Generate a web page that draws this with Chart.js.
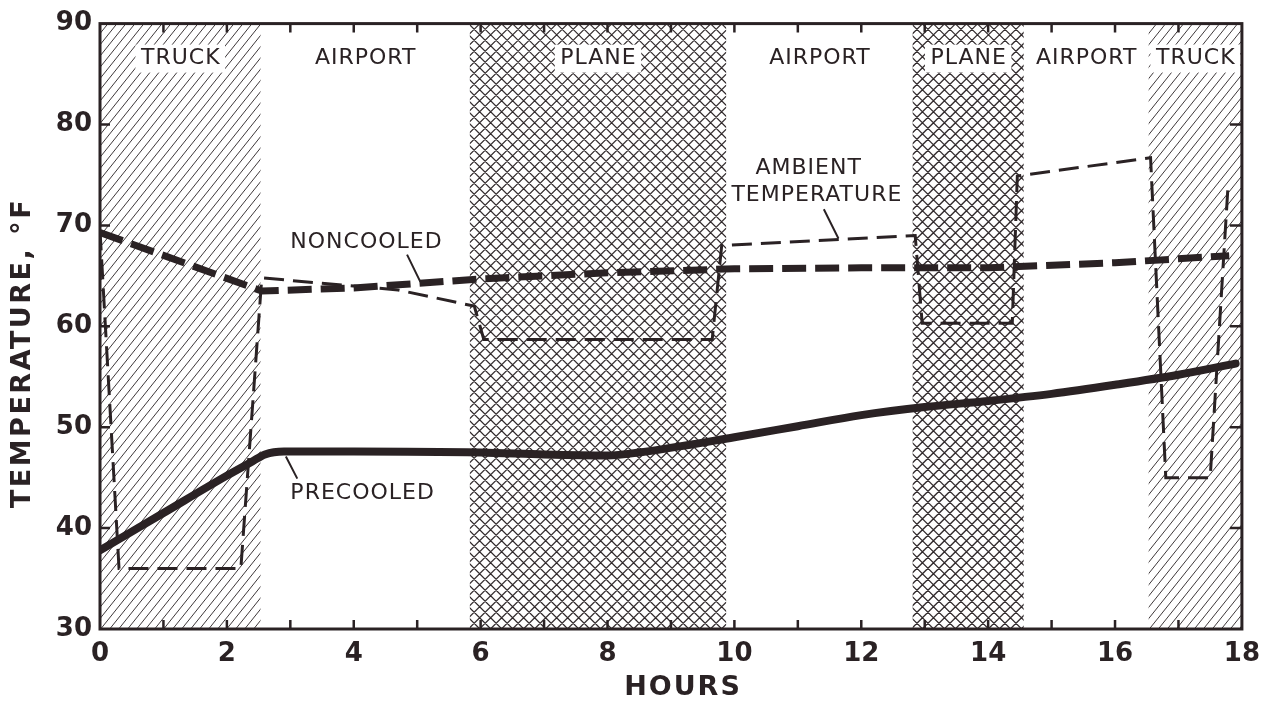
<!DOCTYPE html>
<html>
<head>
<meta charset="utf-8">
<script src="https://cdn.jsdelivr.net/npm/chart.js@4.4.1/dist/chart.umd.min.js"></script>
<style>
  html, body { margin: 0; padding: 0; background: #ffffff; }
  #wrap { width: 1270px; height: 701px; }
</style>
</head>
<body>
<div id="wrap"><canvas id="c" width="1270" height="701"></canvas></div>
<script>
// ---------- data ----------
const xTickLabels = ['0','2','4','6','8','10','12','14','16','18'];
const yTickLabels = ['30','40','50','60','70','80','90'];

const bandStart = [0, 2.53, 5.83, 9.87, 12.81, 14.56, 16.53];
const bandEnd   = [2.53, 5.83, 9.87, 12.81, 14.56, 16.53, 18];
const bandName  = ['TRUCK', 'AIRPORT', 'PLANE', 'AIRPORT', 'PLANE', 'AIRPORT', 'TRUCK'];
const bandKind  = ['hatch', 'none', 'cross', 'none', 'cross', 'none', 'hatch'];

const precooledHours = [0, 1, 2, 2.4, 2.6, 2.9, 4, 6, 7, 8, 8.5, 10, 11, 12, 13, 14, 15, 16, 17, 17.9];
const precooledTemp  = [37.8, 41.5, 45.2, 46.6, 47.3, 47.6, 47.6, 47.5, 47.3, 47.2, 47.5, 49.0, 50.1, 51.2, 52.0, 52.6, 53.3, 54.2, 55.2, 56.3];

const noncooledHours = [0, 2.55, 4, 6, 8, 10, 12, 14, 16, 17.8];
const noncooledTemp  = [69.3, 63.5, 63.8, 64.7, 65.3, 65.7, 65.8, 65.8, 66.3, 67.0];

const ambientHours = [0, 0.3, 2.22, 2.55, 4.7, 5.9, 6.05, 9.65, 9.8, 12.85, 12.96, 14.38, 14.46, 16.56, 16.8, 17.5, 17.78];
const ambientTemp  = [69.5, 36.0, 36.0, 64.8, 63.6, 62.0, 58.7, 58.7, 68.0, 69.0, 60.3, 60.3, 74.9, 76.7, 45.0, 45.0, 73.8];

// annotation texts (in data coordinates)
const noteText  = ['NONCOOLED', 'AMBIENT', 'TEMPERATURE', 'PRECOOLED'];
const noteHour  = [4.2, 11.17, 11.3, 4.14];
const noteTemp  = [68.3, 75.7, 73.0, 43.5];
const leaderFrom = [[4.84, 67.1], [11.41, 71.6], [2.93, 47.1]];
const leaderTo   = [[5.05, 64.4], [11.64, 68.7], [3.11, 44.9]];

// ---------- styling ----------
const ink = '#2a2224';
const pts = (xs, ys) => xs.map((x, i) => ({ x: x, y: ys[i] }));

const bandsPlugin = {
  id: 'bands',
  beforeDatasetsDraw(chart) {
    const { ctx, chartArea: a, scales: { x } } = chart;
    const H = a.bottom - a.top;
    for (let i = 0; i < bandStart.length; i++) {
      const x0 = x.getPixelForValue(bandStart[i]);
      const x1 = x.getPixelForValue(bandEnd[i]);
      ctx.save();
      ctx.beginPath();
      ctx.rect(x0, a.top, x1 - x0, H);
      ctx.clip();
      if (bandKind[i] === 'hatch') {
        ctx.strokeStyle = '#3f393b';
        ctx.lineWidth = 1;
        const run = H / 1.25;
        ctx.beginPath();
        for (let o = x0 - run - 10; o < x1 + 10; o += 9) {
          ctx.moveTo(o, a.bottom);
          ctx.lineTo(o + run, a.top);
        }
        ctx.stroke();
      } else if (bandKind[i] === 'cross') {
        ctx.strokeStyle = '#332c2e';
        ctx.lineWidth = 1.25;
        ctx.beginPath();
        const step = 11;
        for (let o = x0 - H - 12; o < x1 + H + 12; o += step) {
          ctx.moveTo(o, a.bottom);
          ctx.lineTo(o + H, a.top);
          ctx.moveTo(o, a.top);
          ctx.lineTo(o + H, a.bottom);
        }
        ctx.stroke();
      }
      ctx.restore();
      // label with white box
      ctx.save();
      ctx.font = '22px "DejaVu Sans"';
      ctx.letterSpacing = '1px';
      const cx = (x0 + x1) / 2;
      const w = ctx.measureText(bandName[i]).width;
      ctx.fillStyle = '#ffffff';
      ctx.fillRect(cx - w / 2 - 5, a.top + 21, w + 10, 28);
      ctx.fillStyle = ink;
      ctx.textAlign = 'center';
      ctx.textBaseline = 'middle';
      ctx.fillText(bandName[i], cx + 0.5, a.top + 35);
      ctx.restore();
    }
  },
  afterDatasetsDraw(chart) {
    const { ctx, chartArea: a, scales: { x, y } } = chart;
    ctx.save();
    // annotations
    ctx.font = '22px "DejaVu Sans"';
    ctx.letterSpacing = '1px';
    ctx.fillStyle = ink;
    ctx.textAlign = 'center';
    ctx.textBaseline = 'middle';
    for (let i = 0; i < noteText.length; i++) {
      ctx.fillText(noteText[i], x.getPixelForValue(noteHour[i]), y.getPixelForValue(noteTemp[i]));
    }
    ctx.strokeStyle = ink;
    ctx.lineWidth = 2;
    ctx.beginPath();
    for (let i = 0; i < leaderFrom.length; i++) {
      ctx.moveTo(x.getPixelForValue(leaderFrom[i][0]), y.getPixelForValue(leaderFrom[i][1]));
      ctx.lineTo(x.getPixelForValue(leaderTo[i][0]), y.getPixelForValue(leaderTo[i][1]));
    }
    ctx.stroke();
    // frame
    ctx.lineWidth = 3;
    ctx.strokeRect(a.left, a.top, a.right - a.left, a.bottom - a.top);
    // ticks
    ctx.lineWidth = 2.5;
    ctx.beginPath();
    for (let h = 1; h < 18; h++) {
      const px = x.getPixelForValue(h);
      ctx.moveTo(px, a.bottom); ctx.lineTo(px, a.bottom - 9);
      ctx.moveTo(px, a.top); ctx.lineTo(px, a.top + 9);
    }
    for (let t = 40; t < 90; t += 10) {
      const py = y.getPixelForValue(t);
      ctx.moveTo(a.left, py); ctx.lineTo(a.left + 10, py);
      ctx.moveTo(a.right, py); ctx.lineTo(a.right - 12, py);
    }
    ctx.stroke();
    ctx.restore();
  },
  afterDraw(chart) {
    const { ctx } = chart;
    ctx.save();
    ctx.fillStyle = ink;
    ctx.font = 'bold 27px "DejaVu Sans"';
    ctx.letterSpacing = '2px';
    ctx.textAlign = 'center';
    ctx.textBaseline = 'middle';
    ctx.fillText('HOURS', 683, 688);
    ctx.translate(23, 353);
    ctx.rotate(-Math.PI / 2);
    ctx.letterSpacing = '2.5px';
    ctx.fillText('TEMPERATURE, °F', 0, 0);
    ctx.restore();
  }
};

new Chart(document.getElementById('c'), {
  type: 'line',
  data: {
    datasets: [
      {
        label: 'Precooled',
        data: pts(precooledHours, precooledTemp),
        borderColor: ink, borderWidth: 8, pointRadius: 0,
        cubicInterpolationMode: 'monotone', borderCapStyle: 'round', borderJoinStyle: 'round'
      },
      {
        label: 'Noncooled',
        data: pts(noncooledHours, noncooledTemp),
        borderColor: ink, borderWidth: 7, pointRadius: 0, tension: 0,
        borderDash: [24, 9], borderCapStyle: 'butt'
      },
      {
        label: 'Ambient temperature',
        data: pts(ambientHours, ambientTemp),
        borderColor: ink, borderWidth: 3, pointRadius: 0, tension: 0,
        borderDash: [20, 9], borderCapStyle: 'butt', borderJoinStyle: 'miter'
      }
    ]
  },
  options: {
    responsive: false,
    animation: false,
    layout: { padding: { top: 23, right: 16, left: 0, bottom: 0 } },
    plugins: { legend: { display: false }, tooltip: { enabled: false } },
    scales: {
      x: {
        type: 'linear', min: 0, max: 18,
        afterBuildTicks(s) { s.ticks = xTickLabels.map(v => ({ value: Number(v) })); },
        afterFit(s) { s.height = 72; },
        grid: { display: false, drawTicks: false },
        border: { display: false },
        ticks: { color: ink, padding: 10, font: { family: 'DejaVu Sans', size: 26, weight: 'bold' } }
      },
      y: {
        type: 'linear', min: 30, max: 90,
        afterBuildTicks(s) { s.ticks = yTickLabels.map(v => ({ value: Number(v) })); },
        afterFit(s) { s.width = 100; },
        grid: { display: false, drawTicks: false },
        border: { display: false },
        ticks: { color: ink, padding: 8, font: { family: 'DejaVu Sans', size: 26, weight: 'bold' } }
      }
    }
  },
  plugins: [bandsPlugin]
});
</script>
</body>
</html>
